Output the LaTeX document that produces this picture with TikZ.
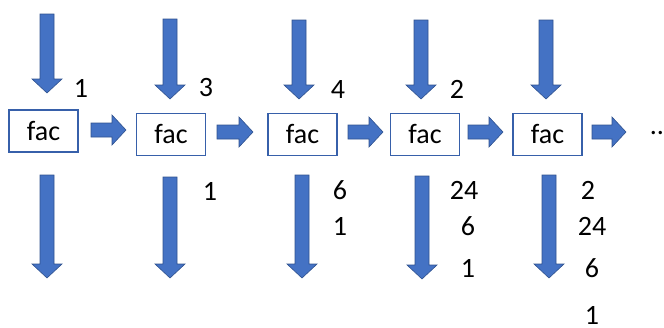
\documentclass[tikz,border=0pt]{standalone}
\usepackage{fontspec}
\setmainfont{Carlito}
\definecolor{arrowfill}{RGB}{68,114,196}
\definecolor{arrowline}{RGB}{47,82,143}
\definecolor{boxline}{RGB}{55,96,170}
\newcommand{\fdown}[3]{% cx, top, tip
  \fill[arrowfill,draw=arrowline,line width=0.6pt]
    (#1-7,#2) -- (#1+7,#2) -- (#1+7,#3-14) -- (#1+15,#3-14) -- (#1,#3)
    -- (#1-15,#3-14) -- (#1-7,#3-14) -- cycle;}
\newcommand{\fright}[3]{% left, right, cy
  \fill[arrowfill,draw=arrowline,line width=0.6pt]
    (#1,#3-7) -- (#2-14,#3-7) -- (#2-14,#3-15) -- (#2,#3) -- (#2-14,#3+15)
    -- (#2-14,#3+7) -- (#1,#3+7) -- cycle;}
\begin{document}
\begin{tikzpicture}[x=1pt,y=-1pt,
  facbox/.style={draw=boxline,line width=1.3pt,minimum width=69pt,minimum height=42pt,
    inner sep=0pt,font=\fontsize{28}{33}\selectfont},
  num/.style={inner sep=0pt,font=\fontsize{28}{33}\selectfont}]
\useasboundingbox (0,0) rectangle (664,327);
% boxes
\node[facbox] (b1) at (43.5,131) {fac};
\node[facbox] (b2) at (171,134.5) {fac};
\node[facbox] (b3) at (302.5,134.5) {fac};
\node[facbox] (b4) at (425,134.5) {fac};
\node[facbox] (b5) at (547.5,134.5) {fac};
% top arrows
\fdown{47}{14}{93}
\fdown{170}{19}{99}
\fdown{299}{20}{99}
\fdown{421}{20}{99}
\fdown{546}{20}{99}
% bottom arrows
\fdown{47}{175}{278}
\fdown{170}{177}{278}
\fdown{302}{175}{278}
\fdown{422}{176}{279}
\fdown{549}{175}{278}
% right arrows
\fright{91}{126}{130}
\fright{217}{253}{132}
\fright{348}{383}{132}
\fright{468}{503}{132}
\fright{592}{626}{132}
% top labels
\node[num] (t1) at (81,88) {1};
\node[num] (t2) at (206,88) {3};
\node[num] (t3) at (338,89.5) {4};
\node[num] (t4) at (457,89.5) {2};
% bottom labels
\node[num] (l21) at (210,191) {1};
\node[num] (l31) at (340,190) {6};
\node[num] (l32) at (340,226) {1};
\node[num] (l41) at (464,190) {24};
\node[num] (l42) at (468,226) {6};
\node[num] (l43) at (468,268) {1};
\node[num] (l51) at (588,190) {2};
\node[num] (l52) at (592,226) {24};
\node[num] (l53) at (592,268) {6};
\node[num] (l54) at (592,315) {1};
\node[num] (dots) at (657,133) {..};
\end{tikzpicture}
\end{document}
